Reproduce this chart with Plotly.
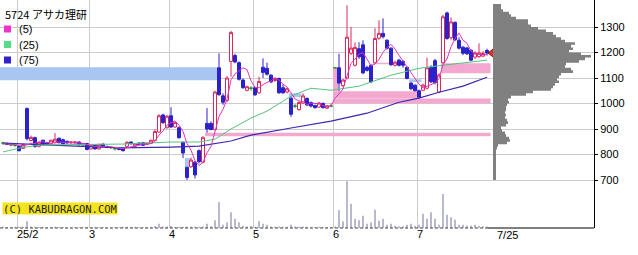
import plotly.graph_objects as go

# ---- data (trading-day index 0 = 2025-01-28 ... 121 = 2025-07-25) ----
opens = [845,844,838,836,832,824,980,855,866,832,856,846,842,846,864,858,852,845,845,849,
         843,843,822,836,822,841,832,828,823,822,823,832,849,832,845,846,840,844,855,888,
         955,905,952,908,905,848,750,752,770,815,770,922,922,898,1140,1030,1012,1165,1188,1160,
         1092,1052,1060,1062,1042,1142,1138,1111,1090,1098,1062,1045,1021,990,976,1002,1020,1004,992,986,
         1000,982,990,1140,1140,1070,1100,1197,1150,1215,1230,1142,1150,1160,1256,1275,1248,1217,1150,1170,
         1165,1142,1080,1072,1050,1052,1060,1142,1168,1045,1160,1355,1258,1318,1248,1221,1218,1209,1182,1184,
         1186,1208]
highs = [850,847,842,840,834,842,985,874,870,850,858,848,858,884,866,862,854,851,851,851,
         845,846,838,838,842,843,834,832,828,824,825,852,851,845,848,848,846,858,900,958,
         960,955,985,928,910,850,751,788,775,820,872,982,930,1050,1197,1040,1108,1285,1195,1165,
         1098,1070,1068,1066,1105,1177,1160,1115,1102,1102,1075,1062,1025,998,1008,1040,1024,1008,996,1006,
         1004,994,1000,1140,1195,1096,1385,1300,1240,1240,1248,1148,1154,1295,1326,1334,1252,1220,1168,1175,
         1170,1145,1084,1075,1055,1078,1180,1150,1175,1119,1348,1360,1338,1322,1260,1225,1222,1212,1205,1236,
         1205,1215]
lows = [838,837,832,830,812,822,855,852,826,828,836,840,840,844,844,840,843,843,842,836,
        835,816,820,820,820,830,825,822,815,817,812,830,840,830,836,834,838,842,853,885,
        920,902,905,905,862,786,700,748,706,765,766,885,895,895,1030,995,1005,1105,1158,1090,
        1058,1048,1050,1030,1038,1100,1110,1080,1085,1038,1038,1040,948,982,972,998,990,985,980,984,
        980,978,985,1140,1048,1065,1095,1190,1145,1175,1115,1125,1080,1160,1250,1255,1212,1148,1145,1145,
        1140,1095,1052,1048,1020,1048,1055,1080,1075,1040,1158,1250,1250,1245,1212,1190,1190,1165,1175,1180,
        1182,1188]
closes = [845,840,838,836,815,838,862,867,832,848,840,842,856,860,846,842,845,849,849,838,
          838,820,836,822,840,832,828,828,823,820,815,848,842,842,838,836,844,856,890,952,
          925,950,908,925,866,806,710,778,720,772,866,900,898,1045,1035,1005,1100,1278,1163,1095,
          1062,1066,1060,1034,1086,1122,1115,1085,1098,1042,1042,1058,958,990,1004,1030,994,990,984,1002,
          984,990,990,1140,1080,1092,1260,1217,1220,1183,1120,1130,1085,1255,1275,1262,1217,1152,1162,1150,
          1150,1098,1058,1050,1025,1072,1140,1085,1082,1112,1340,1255,1320,1250,1217,1197,1195,1170,1198,1198,
          1196,1198]
volumes = [12,10,10,10,12,12,67,15,12,10,10,8,10,12,10,10,8,8,10,8,
           8,10,8,10,8,10,8,8,8,8,10,12,10,10,8,8,10,12,20,43,
           15,15,20,10,12,12,15,12,12,12,15,43,17,77,257,33,57,157,93,57,
           23,15,20,12,67,43,33,15,12,15,12,12,33,15,12,15,12,10,10,12,
           10,10,10,15,177,67,467,243,93,77,123,43,57,183,73,93,33,43,23,17,
           17,33,43,23,33,143,93,157,93,33,340,133,107,83,33,33,23,23,33,23,
           17,15]
ma5 = [842,841,840,839,835,833,838,844,843,849,850,846,844,849,849,849,850,848,846,845,
       844,839,836,831,831,830,832,830,830,826,823,827,830,833,837,841,840,843,853,876,
       893,915,925,932,915,891,843,817,776,757,769,807,831,896,949,977,1017,1093,1116,1128,
       1140,1133,1089,1063,1062,1074,1083,1088,1101,1092,1076,1065,1040,1018,1010,1008,995,1002,1000,1000,
       991,990,990,1021,1037,1058,1112,1158,1174,1194,1200,1174,1148,1155,1173,1201,1219,1232,1214,1189,
       1166,1142,1124,1101,1076,1061,1069,1074,1081,1098,1152,1175,1222,1255,1276,1248,1236,1206,1195,1192,
       1191,1192]
ma25_idx = [0,4,9,22,30,42,49,53,57,62,66,72,77,82,89,97,104,110,121]
ma25_val = [810,825,837,841,841,849,849,860,900,943,970,1029,1060,1052,1068,1111,1138,1150,1170]
ma75_idx = [0,14,29,42,49,57,62,72,82,91,99,104,109,115,121]
ma75_val = [845,837,826,829,833,853,876,904,931,962,1005,1021,1044,1068,1103]

# volume-by-price profile: bin bottoms (step 10) and bar lengths
profile_price = [700,710,720,730,740,750,760,770,780,790,800,810,820,830,840,850,860,870,880,890,
                 900,910,920,930,940,950,960,970,980,990,1000,1010,1020,1030,1040,1050,1060,1070,1080,1090,
                 1100,1110,1120,1130,1140,1150,1160,1170,1180,1190,1200,1210,1220,1230,1240,1250,1260,1270,1280,1290,
                 1300,1310,1320,1330,1340,1350,1360,1370,1380]
profile_vol = [3,3,3,3,3,3,3,3,3,3,3,3,4,5,14,17,16,13,12,9,
               8,13,15,14,12,13,12,13,13,14,16,15,18,33,40,58,60,62,66,64,
               66,68,80,78,72,73,86,92,98,88,76,80,78,82,72,68,63,60,53,45,
               38,35,35,23,18,16,10,8,8]
profile_top = 1390

month_idx = [4, 22, 42, 63, 83, 104]
month_labels = ["25/2", "3", "4", "5", "6", "7"]
last_label = "7/25"
last_price = 1198

# gap boxes: (start, end, low, high, kind)
gaps = [(-1, 53.6, 1091, 1142, "down"), (45.5, 46.9, 751, 786, "down"),
        (71.5, 74.6, 1025, 1040, "down"), (101.5, 104.6, 1084, 1095, "down"),
        (50.5, 121.9, 872, 885, "up"), (82.5, 83.8, 1048, 1140, "up"),
        (82.5, 103.8, 1020, 1048, "up"), (82.5, 121.9, 1000, 1020, "up"),
        (92.5, 96.6, 1154, 1160, "up"), (109.5, 121.9, 1119, 1158, "up")]

title_text = "5724 アサカ理研"
legend_items = [("(5)", "#ee33cc"), ("(25)", "#55dd88"), ("(75)", "#3322cc")]
credit = "(C) KABUDRAGON.COM"

# ---- figure ----
W, H = 638, 255
PW, PH = 594, 228
UP, DOWN, DOJI = "#dc2858", "#2a22cc", "#229922"
fig = go.Figure()

n = len(closes)
idx = list(range(n))

fig.add_trace(go.Bar(x=idx, y=volumes, yaxis="y2", width=0.25,
                     marker=dict(color="#74749e", line=dict(width=0)), hoverinfo="skip"))

# profile as a stepped filled area (no gaps between bins)
fig.add_trace(go.Scatter(y=profile_price + [profile_top], x=profile_vol + [profile_vol[-1]],
                         xaxis="x2", yaxis="y", mode="lines", line=dict(shape="vh", width=0, color="#808080"),
                         fill="tozerox", fillcolor="#808080", hoverinfo="skip"))

fig.add_trace(go.Scatter(x=ma75_idx, y=ma75_val, mode="lines",
                         line=dict(color="#3a28b0", width=1.2), hoverinfo="skip"))
fig.add_trace(go.Scatter(x=ma25_idx, y=ma25_val, mode="lines",
                         line=dict(color="#55c47a", width=1), hoverinfo="skip"))
fig.add_trace(go.Scatter(x=idx, y=ma5, mode="lines",
                         line=dict(color="#dd33bb", width=1), hoverinfo="skip"))

nd = [i for i in idx if closes[i] != opens[i]]
dj = [i for i in idx if closes[i] == opens[i]]
fig.add_trace(go.Candlestick(
    x=nd, open=[opens[i] for i in nd], high=[highs[i] for i in nd],
    low=[lows[i] for i in nd], close=[closes[i] for i in nd],
    increasing=dict(line=dict(color=UP, width=1), fillcolor="white"),
    decreasing=dict(line=dict(color=DOWN, width=1), fillcolor=DOWN),
    hoverinfo="skip"))
fig.add_trace(go.Candlestick(
    x=dj, open=[opens[i] for i in dj], high=[highs[i] for i in dj],
    low=[lows[i] for i in dj], close=[closes[i] for i in dj],
    increasing=dict(line=dict(color=DOJI, width=1), fillcolor=DOJI),
    decreasing=dict(line=dict(color=DOJI, width=1), fillcolor=DOJI),
    hoverinfo="skip"))

fig.add_trace(go.Scatter(x=[n + 0.25], y=[last_price], mode="markers",
                         marker=dict(symbol="triangle-left", size=8, color="#e03020",
                                     line=dict(color="#901010", width=1)),
                         hoverinfo="skip"))

shapes = []
for x0, x1, lo, hi, kind in gaps:
    shapes.append(dict(type="rect", xref="x", yref="y", x0=x0, x1=x1, y0=lo, y1=hi,
                       fillcolor="#a9c6f2" if kind == "down" else "#f3a9cf",
                       line=dict(width=0), layer="between"))
shapes.append(dict(type="line", xref="x", yref="paper", x0=-0.75, x1=n - 0.75, y0=0, y1=0,
                   line=dict(color="#444444", width=1, dash="3px,2px")))
shapes.append(dict(type="line", xref="x", yref="paper", x0=n - 0.75, x1=147.75, y0=0, y1=0,
                   line=dict(color="black", width=1)))

annotations = [dict(text=title_text, xref="paper", yref="paper", x=3 / PW, y=1 - 14 / PH,
                    xanchor="left", yanchor="middle", showarrow=False,
                    font=dict(family="Noto Sans CJK JP", size=11, color="black"))]
for j, (lab, col) in enumerate(legend_items):
    yc = 29 + 15.5 * j
    shapes.append(dict(type="rect", xref="paper", yref="paper", x0=4 / PW, x1=11 / PW,
                       y0=1 - (yc + 3.5) / PH, y1=1 - (yc - 3.5) / PH,
                       fillcolor=col, line=dict(width=0)))
    annotations.append(dict(text=lab, xref="paper", yref="paper", x=17 / PW, y=1 - yc / PH,
                            xanchor="left", yanchor="middle", showarrow=False,
                            font=dict(family="Liberation Sans", size=11, color="black")))
annotations.append(dict(text=credit, xref="paper", yref="paper", x=2 / PW, y=1 - 208 / PH,
                        xanchor="left", yanchor="middle", showarrow=False,
                        bgcolor="#f4e41e", borderpad=0, height=11, width=114,
                        font=dict(family="DejaVu Sans Mono", size=10.5, color="#222222")))
annotations.append(dict(text=last_label, xref="x", yref="paper", x=123, y=0,
                        xanchor="left", yanchor="top", yshift=1, showarrow=False,
                        font=dict(family="Liberation Sans", size=11, color="black")))

fig.update_layout(
    width=W, height=H, margin=dict(l=0, r=W - PW, t=0, b=H - PH),
    paper_bgcolor="white", plot_bgcolor="white", showlegend=False,
    boxgap=0.25, boxgroupgap=0,
    xaxis=dict(range=[-0.75, 147.75], tickvals=[m - 0.5 for m in month_idx],
               ticktext=month_labels, ticks="", ticklabelposition="outside right",
               ticklabelstandoff=-2,
               showgrid=True, gridcolor="#cccccc", gridwidth=1, zeroline=False,
               showline=False, rangeslider=dict(visible=False), fixedrange=True,
               tickfont=dict(family="Liberation Sans", size=11, color="black")),
    xaxis2=dict(range=[-493, 101], overlaying="x", anchor="y", visible=False, fixedrange=True),
    yaxis=dict(range=[511.8, 1405.9], side="right", tickvals=[700, 800, 900, 1000, 1100, 1200, 1300],
               ticks="outside", ticklen=3, tickcolor="black", showgrid=True, gridcolor="#cccccc",
               gridwidth=1, zeroline=False, showline=True, linecolor="black", linewidth=1,
               ticklabelstandoff=0,
               tickfont=dict(family="Liberation Sans", size=11, color="black"), fixedrange=True),
    yaxis2=dict(range=[0, 2280], overlaying="y", visible=False, fixedrange=True),
    shapes=shapes, annotations=annotations,
)

fig.write_html("out.html", config={"displayModeBar": False, "staticPlot": True})
